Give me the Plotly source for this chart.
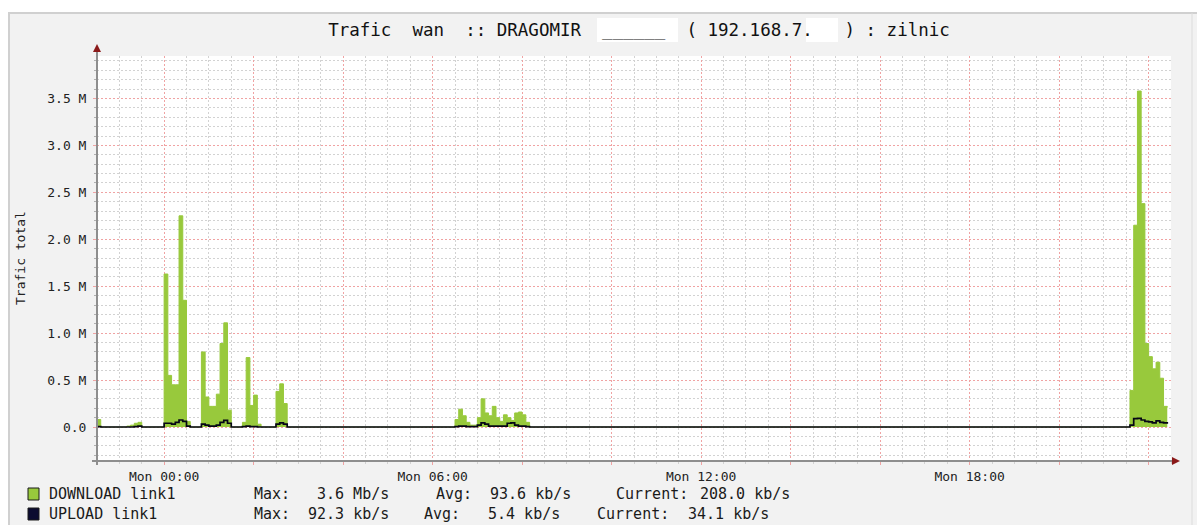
import pandas as pd
import plotly.graph_objects as go

# ---------------- data (values in M bit/s, 5-minute samples) ----------------
START = "2012-01-01 22:30"          # Sun 22:30, left edge of the 24 h window
END = "2012-01-02 22:30"            # Mon 22:30
STEP_MIN = 5
N_STEPS = 288

# bursts of traffic: start time of first sample, download values, upload values
dl_2230 = [0.08]
ul_2230 = [0.005]
dl_2310 = [0.01, 0.02, 0.04, 0.05]
ul_2310 = [0.0, 0.0, 0.005, 0.01]
dl_0000 = [1.63, 0.55, 0.45, 0.45, 2.25, 1.35, 0.06]
ul_0000 = [0.04, 0.04, 0.03, 0.05, 0.075, 0.06, 0.01]
dl_0050 = [0.80, 0.32, 0.22, 0.22, 0.35, 0.89, 1.11, 0.18]
ul_0050 = [0.03, 0.02, 0.01, 0.01, 0.02, 0.05, 0.07, 0.04]
dl_0145 = [0.05, 0.74, 0.23, 0.34, 0.03]
ul_0145 = [0.005, 0.01, 0.005, 0.005, 0.0]
dl_0230 = [0.38, 0.46, 0.25]
ul_0230 = [0.03, 0.045, 0.03]
dl_0630 = [0.08, 0.19, 0.12, 0.05, 0.02, 0.02, 0.10, 0.30, 0.15, 0.12,
           0.22, 0.10, 0.06, 0.13, 0.10, 0.07, 0.15, 0.16, 0.13, 0.05]
ul_0630 = [0.005, 0.01, 0.01, 0.005, 0.005, 0.005, 0.02, 0.045, 0.03, 0.01,
           0.01, 0.01, 0.01, 0.01, 0.04, 0.045, 0.02, 0.01, 0.01, 0.005]
dl_2135 = [0.39, 2.15, 3.58, 2.38, 0.89, 0.75, 0.62, 0.69, 0.52, 0.22, 0.208]
ul_2135 = [0.02, 0.09, 0.092, 0.075, 0.06, 0.055, 0.045, 0.065, 0.05, 0.045, 0.034]

bursts = [
    ("2012-01-01 22:30", dl_2230, ul_2230),
    ("2012-01-01 23:10", dl_2310, ul_2310),
    ("2012-01-02 00:00", dl_0000, ul_0000),
    ("2012-01-02 00:50", dl_0050, ul_0050),
    ("2012-01-02 01:45", dl_0145, ul_0145),
    ("2012-01-02 02:30", dl_0230, ul_0230),
    ("2012-01-02 06:30", dl_0630, ul_0630),
    ("2012-01-02 21:35", dl_2135, ul_2135),
]

y_tickvals = [0.0, 0.5, 1.0, 1.5, 2.0, 2.5, 3.0, 3.5]
y_ticktext = ["0.0", "0.5 M", "1.0 M", "1.5 M", "2.0 M", "2.5 M", "3.0 M", "3.5 M"]
x_label_hours = {0: "Mon 00:00", 6: "Mon 06:00", 12: "Mon 12:00", 18: "Mon 18:00"}

series_names = ["DOWNLOAD link1", "UPLOAD link1"]
series_colors = ["#98c93c", "#0b0b30"]
stat_max = ["3.6 Mb/s", "92.3 kb/s"]
stat_avg = ["93.6 kb/s", "5.4 kb/s"]
stat_cur = ["208.0 kb/s", "34.1 kb/s"]

TITLE = "Trafic  wan  :: DRAGOMIR  ______  ( 192.168.7.   ) : zilnic"

# ---------------- build series ----------------
times = pd.date_range(START, periods=N_STEPS, freq=f"{STEP_MIN}min")
download = pd.Series(0.0, index=times)
upload = pd.Series(0.0, index=times)
for t0, dl, ul in bursts:
    idx = pd.date_range(t0, periods=len(dl), freq=f"{STEP_MIN}min")
    download.loc[idx] = dl
    upload.loc[idx] = ul

# ---------------- geometry helpers (pixel -> paper) ----------------
W, H = 1197, 525
PL, PR, PT, PB = 97, 1171, 56, 461


def px(x):
    return (x - PL) / (PR - PL)


def py(y):
    return (PB - y) / (PB - PT)


RED_GRID = "#f0a3a3"
GRAY_GRID = "#d2d2d2"
AXIS_GRAY = "#8e8e8e"
ARROW_RED = "#8b1a1a"
MONO = "DejaVu Sans Mono"

fig = go.Figure()
fig.add_trace(go.Scatter(
    x=times, y=download, mode="lines", line=dict(color=series_colors[0], width=1, shape="hv"),
    fill="tozeroy", fillcolor=series_colors[0], name=series_names[0], hoverinfo="skip"))
fig.add_trace(go.Scatter(
    x=times, y=upload, mode="lines", line=dict(color="#050515", width=1.7, shape="hv"),
    name=series_names[1], hoverinfo="skip"))

major_x = pd.date_range("2012-01-02 00:00", "2012-01-02 22:00", freq="2h")
x_ticktext = [x_label_hours.get(t.hour, "") for t in major_x]

fig.update_xaxes(
    type="date", range=[START, END],
    tickmode="array", tickvals=major_x, ticktext=x_ticktext,
    showgrid=True, gridcolor=RED_GRID, griddash="2px,2px", gridwidth=1,
    ticks="outside", ticklen=3, tickcolor=RED_GRID,
    minor=dict(tickmode="linear", tick0="2012-01-02 00:00", dtick=30 * 60 * 1000,
               showgrid=True, gridcolor=GRAY_GRID, griddash="2px,2px", gridwidth=1,
               ticks="outside", ticklen=2, tickcolor=GRAY_GRID),
    showline=False, zeroline=False, fixedrange=True,
    tickfont=dict(family=MONO, size=13, color="#222222"),
)
fig.update_yaxes(
    range=[-0.362, 3.953],
    tickmode="array", tickvals=y_tickvals, ticktext=y_ticktext,
    showgrid=True, gridcolor=RED_GRID, griddash="2px,2px", gridwidth=1,
    ticks="outside", ticklen=3, tickcolor=RED_GRID, ticklabelstandoff=4,
    minor=dict(tickmode="linear", tick0=0, dtick=0.1,
               showgrid=True, gridcolor=GRAY_GRID, griddash="2px,2px", gridwidth=1,
               ticks="outside", ticklen=2, tickcolor="#b0b0b0"),
    showline=False, zeroline=False, fixedrange=True,
    tickfont=dict(family=MONO, size=13, color="#222222"),
)

shapes = []
# outer frame: white strips + borders
shapes.append(dict(type="rect", xref="paper", yref="paper", x0=px(0), x1=px(W), y0=py(12), y1=py(0),
                   fillcolor="white", line=dict(width=0), layer="below"))
shapes.append(dict(type="rect", xref="paper", yref="paper", x0=px(0), x1=px(8), y0=py(H), y1=py(0),
                   fillcolor="white", line=dict(width=0), layer="below"))
shapes.append(dict(type="line", xref="paper", yref="paper", x0=px(8), x1=px(W), y0=py(13), y1=py(13),
                   line=dict(color="#d0d0d0", width=2), layer="below"))
shapes.append(dict(type="line", xref="paper", yref="paper", x0=px(9), x1=px(9), y0=py(13), y1=py(H),
                   line=dict(color="#d0d0d0", width=2), layer="below"))
shapes.append(dict(type="line", xref="paper", yref="paper", x0=px(1192), x1=px(1192), y0=py(13), y1=py(H),
                   line=dict(color="#dcdcdc", width=1), layer="below"))
# redaction boxes in the title
shapes.append(dict(type="rect", xref="paper", yref="paper", x0=px(597), x1=px(678), y0=py(42), y1=py(18),
                   fillcolor="white", line=dict(width=0), layer="below"))
shapes.append(dict(type="rect", xref="paper", yref="paper", x0=px(806), x1=px(838), y0=py(42), y1=py(18),
                   fillcolor="white", line=dict(width=0), layer="below"))
# axis lines
shapes.append(dict(type="line", xref="paper", yref="paper", x0=px(92), x1=px(1173), y0=py(461), y1=py(461),
                   line=dict(color=AXIS_GRAY, width=2)))
shapes.append(dict(type="line", xref="paper", yref="paper", x0=px(97), x1=px(97), y0=py(465), y1=py(51),
                   line=dict(color=AXIS_GRAY, width=2)))
# arrow heads
shapes.append(dict(type="path", xref="paper", yref="paper",
                   path=f"M {px(93)},{py(52)} L {px(101)},{py(52)} L {px(97)},{py(44)} Z",
                   fillcolor=ARROW_RED, line=dict(width=0)))
shapes.append(dict(type="path", xref="paper", yref="paper",
                   path=f"M {px(1172)},{py(457)} L {px(1172)},{py(465)} L {px(1180)},{py(461)} Z",
                   fillcolor=ARROW_RED, line=dict(width=0)))
# legend swatches
for i, rowy in enumerate([494, 514]):
    shapes.append(dict(type="rect", xref="paper", yref="paper", x0=px(28), x1=px(39),
                       y0=py(rowy + 6), y1=py(rowy - 6),
                       fillcolor=series_colors[i], line=dict(color="#1a1a1a", width=1)))

annotations = []
annotations.append(dict(text="Trafic total", xref="paper", yref="paper", x=px(20), y=py(258),
                        textangle=-90, showarrow=False, xanchor="center", yanchor="middle",
                        font=dict(family=MONO, size=13, color="#222222")))

leg_font = dict(family=MONO, size=15, color="#1a1a1a")
row_y = [494, 514]
lx_max_label = [252, 252]
lx_max_val = [391, 391]
lx_avg_label = [434, 422]
lx_avg_val = [573, 562]
lx_cur_label = [614, 595]
lx_cur_val = [792, 771]
for i in range(2):
    items = [
        (series_names[i], 47, "left"),
        ("Max:", lx_max_label[i], "left"),
        (stat_max[i], lx_max_val[i], "right"),
        ("Avg:", lx_avg_label[i], "left"),
        (stat_avg[i], lx_avg_val[i], "right"),
        ("Current:", lx_cur_label[i], "left"),
        (stat_cur[i], lx_cur_val[i], "right"),
    ]
    for txt, xx, anc in items:
        annotations.append(dict(text=txt, xref="paper", yref="paper", x=px(xx), y=py(row_y[i]),
                                showarrow=False, xanchor=anc, yanchor="middle", font=leg_font))

fig.update_layout(
    width=W, height=H,
    margin=dict(l=PL, r=W - PR, t=PT, b=H - PB, pad=0),
    paper_bgcolor="#f2f2f2", plot_bgcolor="white",
    showlegend=False,
    title=dict(text=TITLE, x=639 / W, xanchor="center", y=1 - 30 / H, yanchor="middle",
               font=dict(family=MONO, size=17.5, color="#111111")),
    font=dict(family=MONO, size=13, color="#222222"),
    shapes=shapes, annotations=annotations,
)

fig.write_html("out.html", config={"displayModeBar": False},
               post_script="document.body.style.margin='0px';document.body.style.overflow='hidden';")
